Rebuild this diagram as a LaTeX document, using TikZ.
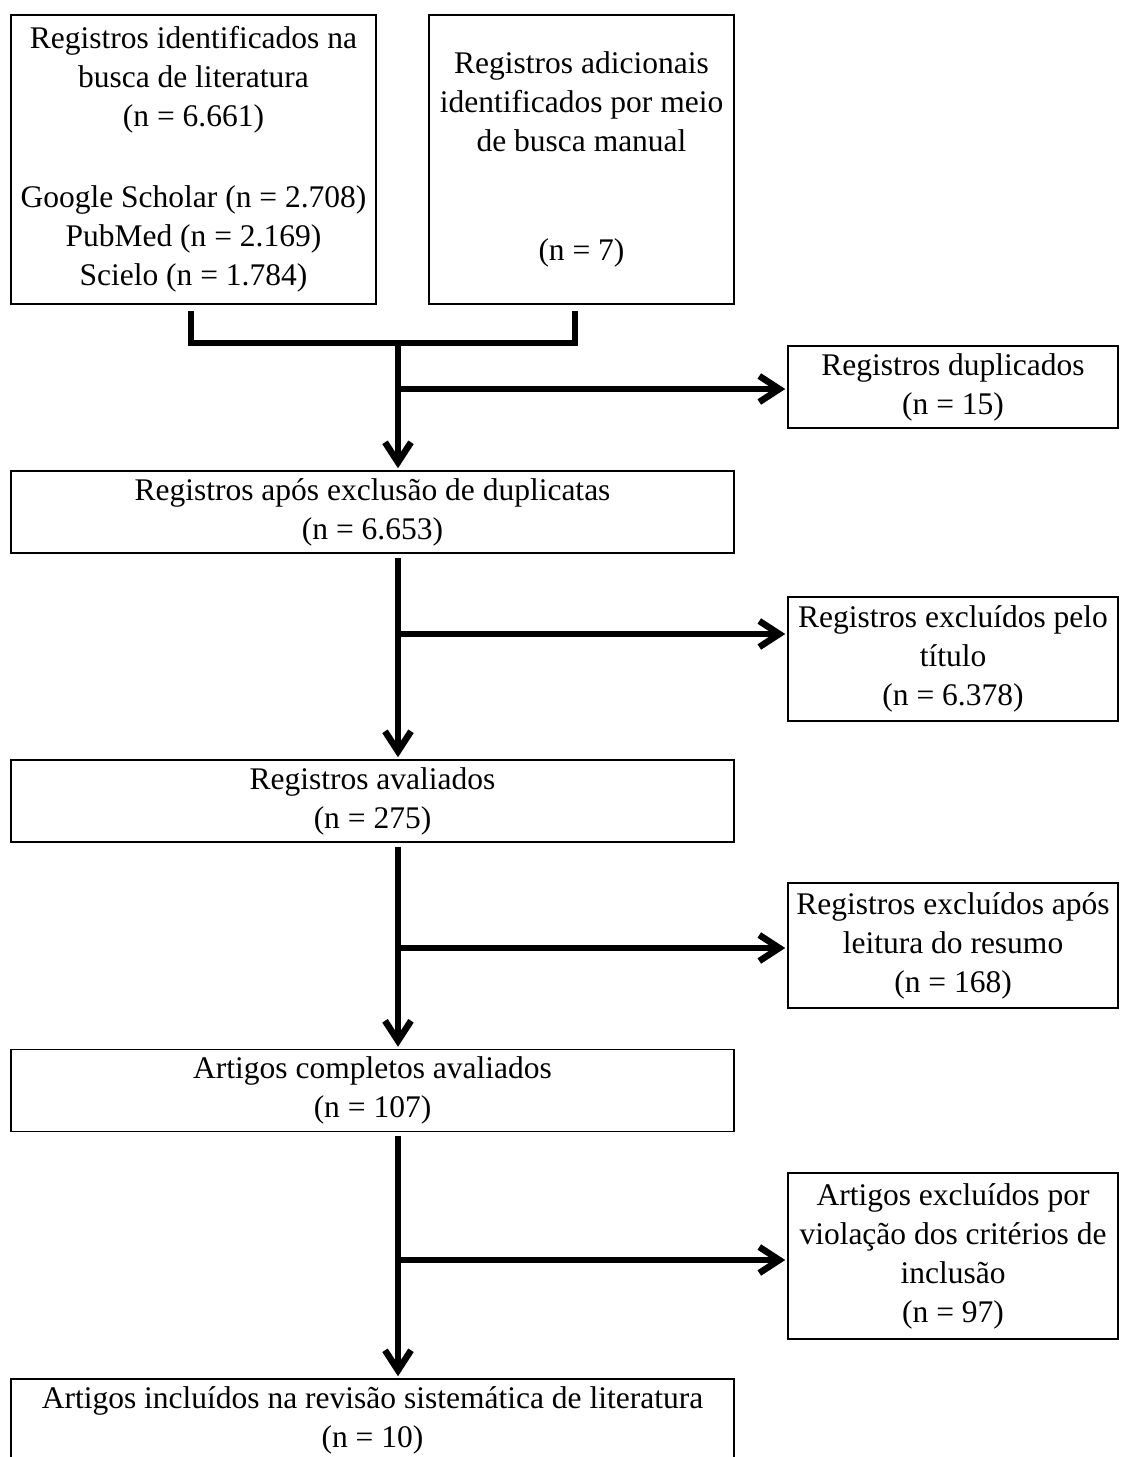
\documentclass[tikz,border=0pt]{standalone}
\usepackage{fontspec}
\setmainfont{Liberation Serif}
\usetikzlibrary{arrows.meta}
\begin{document}
\begin{tikzpicture}[x=1pt,y=-1pt]
    \tikzstyle{box}=[rectangle,draw=black,line width=1.5pt,align=center,inner sep=0pt,font=\fontsize{31.5}{39}\selectfont]
    \tikzstyle{wide}=[box,minimum width=723pt,minimum height=82pt]
    \tikzstyle{side}=[box,minimum width=330pt]
    \tikzstyle{spine}=[line width=6.5pt]
    \tikzstyle{flowarrow}=[spine,-{Straight Barb[length=20pt,width=26pt]},shorten >=2pt]
    \clip (0,0) rectangle (1121,1457);

    % identification
    \node[box,minimum width=365pt,minimum height=289pt] (reg) at (193.5,159.5)
        {Registros identificados na\\busca de literatura\\(n = 6.661)\\[42pt]Google Scholar (n = 2.708)\\PubMed (n = 2.169)\\Scielo (n = 1.784)};
    \node[box,minimum width=305pt,minimum height=289pt] (man) at (581.5,159.5)
        {Registros adicionais\\identificados por meio\\de busca manual\\[70pt](n = 7)};

    % main column
    \node[wide] (unic) at (372.5,512)    {Registros após exclusão de duplicatas\\(n = 6.653)};
    \node[wide] (aval) at (372.5,801)    {Registros avaliados\\(n = 275)};
    \node[wide] (compl) at (372.5,1090.5) {Artigos completos avaliados\\(n = 107)};
    \node[wide] (incl) at (372.5,1420)   {Artigos incluídos na revisão sistemática de literatura\\(n = 10)};

    % exclusions
    \node[side,minimum height=82pt]  (dup) at (953,387)       {Registros duplicados\\(n = 15)};
    \node[side,minimum height=124pt] (excltit) at (953,659)   {Registros excluídos pelo\\título\\(n = 6.378)};
    \node[side,minimum height=125pt] (exclres) at (953,945.5) {Registros excluídos após\\leitura do resumo\\(n = 168)};
    \node[side,minimum height=166pt] (exclinc) at (953,1256)  {Artigos excluídos por\\violação dos critérios de\\inclusão\\(n = 97)};

    % connectors
    \coordinate (join) at (398,343);
    \draw[spine] ([xshift=-2.5pt,yshift=-6pt]reg.south) |- (join) -| ([xshift=-6.5pt,yshift=-6pt]man.south);
    \draw[flowarrow] (join) -- (join |- unic.north);
    \draw[flowarrow,shorten <=4pt] (join |- unic.south) -- (join |- aval.north);
    \draw[flowarrow,shorten <=4pt] (join |- aval.south) -- (join |- compl.north);
    \draw[flowarrow,shorten <=4pt] (join |- compl.south) -- (join |- incl.north);

    \coordinate (b0) at (398,389);
    \coordinate (b1) at (398,634);
    \coordinate (b2) at (398,948);
    \coordinate (b3) at (398,1260);
    \draw[flowarrow] (b0) -- (b0 -| dup.west);
    \draw[flowarrow] (b1) -- (b1 -| excltit.west);
    \draw[flowarrow] (b2) -- (b2 -| exclres.west);
    \draw[flowarrow] (b3) -- (b3 -| exclinc.west);

\end{tikzpicture}
\end{document}
